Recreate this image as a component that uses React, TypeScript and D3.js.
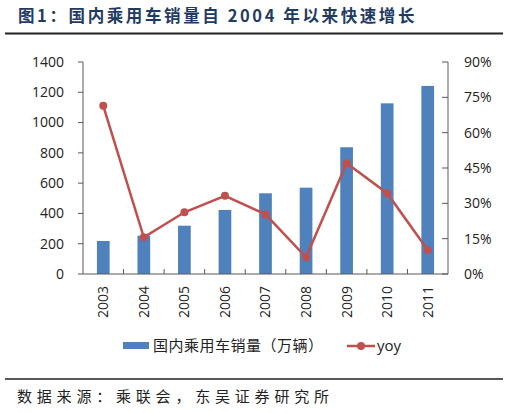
import { useRef, useEffect } from 'react'
import * as d3 from "d3";

// data
const years = ["2003", "2004", "2005", "2006", "2007", "2008", "2009", "2010", "2011"];
const sales = [218, 253, 319, 423, 533, 570, 837, 1127, 1242];
const yoy = [71.4, 15.6, 26.2, 33.2, 25.3, 7.1, 47.0, 34.3, 10.2];
const leftTicks = [0, 200, 400, 600, 800, 1000, 1200, 1400];
const rightTicks = [0, 15, 30, 45, 60, 75, 90];

const titleText = "图1：国内乘用车销量自 2004 年以来快速增长";
const sourceText = "数据来源：乘联会，东吴证券研究所";
const barLabel = "国内乘用车销量（万辆）";
const lineLabel = "yoy";

const width = 511;
const height = 413;
const marginLeft = 83;
const marginRight = 63;
const plotTop = 62;
const plotBottom = 274;

const barColor = "#4F81BD";
const lineColor = "#C0504D";
const axisColor = "#595959";
const tickFont = "'Open Sans', 'Noto Sans', sans-serif";
const cjkFont = "'Noto Sans CJK SC', sans-serif";

function App() {
  const svgRef = useRef<SVGSVGElement>(null);

  useEffect(() => {
    const svg = d3.select(svgRef.current);
    svg.selectAll("*").remove();

    const x = d3.scaleBand(years, [marginLeft, width - marginRight]).paddingInner(0).paddingOuter(0);
    const yLeft = d3.scaleLinear([0, 1400], [plotBottom, plotTop]);
    const yRight = d3.scaleLinear([0, 90], [plotBottom, plotTop]);

    // title
    svg.append("text")
      .attr("x", 18)
      .attr("y", 22)
      .attr("font-family", cjkFont)
      .attr("font-weight", "bold")
      .attr("font-size", 16.5)
      .attr("letter-spacing", 2.6)
      .attr("fill", "#1F3B63")
      .text(titleText);
    svg.append("line")
      .attr("x1", 5).attr("x2", 503)
      .attr("y1", 33.5).attr("y2", 33.5)
      .attr("stroke", "#222").attr("stroke-width", 2);

    // bars
    const barW = 12.7;
    svg.append("g")
      .selectAll("rect")
      .data(sales)
      .join("rect")
      .attr("x", (_, i) => x(years[i])! + x.bandwidth() / 2 - barW / 2)
      .attr("y", d => yLeft(d))
      .attr("width", barW)
      .attr("height", d => plotBottom - yLeft(d))
      .attr("fill", barColor);

    // left axis
    const gl = svg.append("g");
    gl.append("line")
      .attr("x1", marginLeft).attr("x2", marginLeft)
      .attr("y1", plotTop).attr("y2", plotBottom)
      .attr("stroke", axisColor);
    gl.selectAll("line.t").data(leftTicks).join("line")
      .attr("class", "t")
      .attr("x1", marginLeft - 5).attr("x2", marginLeft)
      .attr("y1", d => yLeft(d)).attr("y2", d => yLeft(d))
      .attr("stroke", axisColor);
    gl.selectAll("text").data(leftTicks).join("text")
      .attr("x", 64)
      .attr("y", d => yLeft(d))
      .attr("dy", "0.35em")
      .attr("text-anchor", "end")
      .attr("font-family", tickFont)
      .attr("font-size", 14)
      .attr("fill", "#222")
      .text(d => String(d));

    // right axis
    const xr = width - marginRight;
    const gr = svg.append("g");
    gr.append("line")
      .attr("x1", xr).attr("x2", xr)
      .attr("y1", plotTop).attr("y2", plotBottom)
      .attr("stroke", axisColor);
    gr.selectAll("line.t").data(rightTicks).join("line")
      .attr("class", "t")
      .attr("x1", xr - 6).attr("x2", xr)
      .attr("y1", d => yRight(d)).attr("y2", d => yRight(d))
      .attr("stroke", axisColor);
    gr.selectAll("text").data(rightTicks).join("text")
      .attr("x", 464)
      .attr("y", d => yRight(d))
      .attr("dy", "0.35em")
      .attr("font-family", tickFont)
      .attr("font-size", 14)
      .attr("fill", "#222")
      .text(d => `${d}%`);

    // bottom axis
    const gb = svg.append("g");
    gb.append("line")
      .attr("x1", marginLeft).attr("x2", xr)
      .attr("y1", plotBottom).attr("y2", plotBottom)
      .attr("stroke", axisColor);
    gb.selectAll("line.t").data(years.slice(1)).join("line")
      .attr("class", "t")
      .attr("x1", d => x(d)!).attr("x2", d => x(d)!)
      .attr("y1", plotBottom - 5).attr("y2", plotBottom)
      .attr("stroke", axisColor);
    gb.selectAll("text").data(years).join("text")
      .attr("transform", d => `translate(${x(d)! + x.bandwidth() / 2},${286}) rotate(-90)`)
      .attr("dy", "0.35em")
      .attr("text-anchor", "end")
      .attr("font-family", tickFont)
      .attr("font-size", 14)
      .attr("fill", "#222")
      .text(d => d);

    // yoy line
    const line = d3.line<number>()
      .x((_, i) => x(years[i])! + x.bandwidth() / 2)
      .y(d => yRight(d));
    svg.append("path")
      .datum(yoy)
      .attr("d", line)
      .attr("fill", "none")
      .attr("stroke", lineColor)
      .attr("stroke-width", 2.5);
    svg.append("g")
      .selectAll("circle")
      .data(yoy)
      .join("circle")
      .attr("cx", (_, i) => x(years[i])! + x.bandwidth() / 2)
      .attr("cy", d => yRight(d))
      .attr("r", 4)
      .attr("fill", lineColor);

    // legend
    const lg = svg.append("g");
    lg.append("rect")
      .attr("x", 123).attr("y", 342)
      .attr("width", 26).attr("height", 7)
      .attr("fill", barColor);
    lg.append("text")
      .attr("x", 153).attr("y", 346)
      .attr("dy", "0.35em")
      .attr("font-family", cjkFont)
      .attr("font-size", 15)
      .attr("letter-spacing", 0.5)
      .attr("fill", "#222")
      .text(barLabel);
    lg.append("line")
      .attr("x1", 347).attr("x2", 375)
      .attr("y1", 346).attr("y2", 346)
      .attr("stroke", lineColor).attr("stroke-width", 2.5);
    lg.append("circle")
      .attr("cx", 361).attr("cy", 346).attr("r", 4)
      .attr("fill", lineColor);
    lg.append("text")
      .attr("x", 377).attr("y", 346)
      .attr("dy", "0.35em")
      .attr("font-family", tickFont)
      .attr("font-size", 15)
      .attr("fill", "#222")
      .text(lineLabel);

    // source
    svg.append("line")
      .attr("x1", 5).attr("x2", 503)
      .attr("y1", 379).attr("y2", 379)
      .attr("stroke", "#222").attr("stroke-width", 1.5);
    svg.append("text")
      .attr("x", 17).attr("y", 397)
      .attr("dy", "0.35em")
      .attr("font-family", cjkFont)
      .attr("font-size", 15)
      .attr("letter-spacing", 4.8)
      .attr("fill", "#222")
      .text(sourceText);
  }, []);

  return (
    <svg ref={svgRef} width={width} height={height}
      style={{ position: "absolute", left: 0, top: 0, background: "white" }} />
  );
}

export default App;
